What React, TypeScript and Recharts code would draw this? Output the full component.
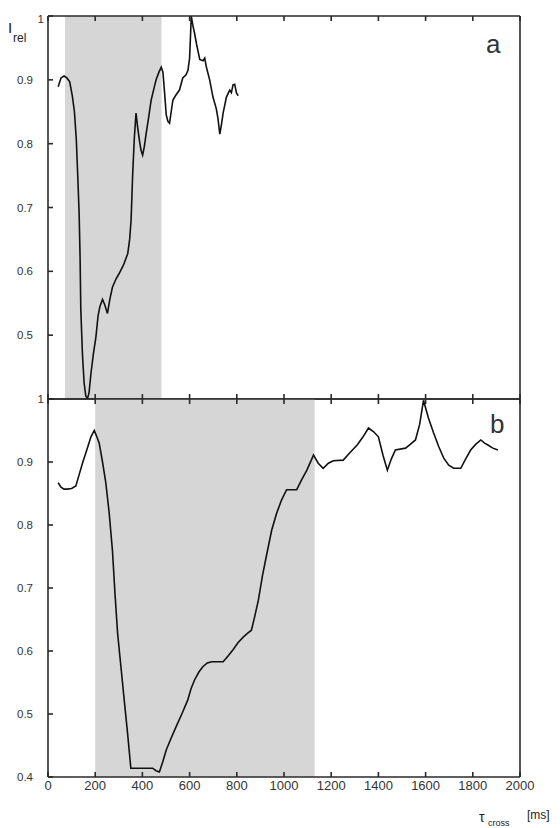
import React from 'react';
import { LineChart, Line, XAxis, YAxis, ReferenceArea } from 'recharts';

// ---- Panel a (top) ----
const topTime = [
  43, 55, 68, 80, 92, 103, 112, 120, 126, 132, 136, 139, 146, 153, 160, 167, 174, 182, 192, 203,
  212, 220, 231, 240, 252, 262, 273, 288, 302, 320, 338, 346, 352, 359, 366, 373, 380, 387, 394, 401,
  408, 416, 426, 437, 448, 458, 470, 480, 487, 494, 501, 508, 515, 522, 529, 540, 557, 571, 585, 593,
  600, 604, 607, 614, 621, 630, 643, 657, 664, 671, 685, 699, 713, 720, 728, 735, 742, 756, 770, 777,
  784, 791, 799, 806,
];
const topIrel = [
  0.889, 0.903, 0.906, 0.903, 0.897, 0.875, 0.85, 0.806, 0.75, 0.69, 0.62, 0.54, 0.47, 0.425, 0.405, 0.4, 0.41, 0.44, 0.47, 0.497,
  0.53, 0.545, 0.556, 0.548, 0.534, 0.556, 0.575, 0.588, 0.597, 0.61, 0.628, 0.65, 0.68, 0.754, 0.81, 0.848, 0.825, 0.806, 0.79, 0.782,
  0.795, 0.816, 0.84, 0.868, 0.885, 0.9, 0.912, 0.92, 0.912, 0.88, 0.845, 0.835, 0.832, 0.85, 0.868, 0.875, 0.884, 0.903, 0.908, 0.915,
  0.934, 0.97, 1.0, 0.985, 0.973, 0.955, 0.932, 0.93, 0.934, 0.92, 0.9, 0.873, 0.855, 0.84, 0.815, 0.83, 0.848, 0.873, 0.884, 0.88,
  0.892, 0.893, 0.879, 0.875,
];
const topShade = [72, 481];

// ---- Panel b (bottom) ----
const bottomTime = [
  43, 55, 68, 81, 100, 118, 132, 146, 165, 182, 196, 207, 217, 231, 245, 259, 273, 284, 295, 309,
  323, 337, 351, 380, 410, 443, 458, 472, 487, 501, 522, 543, 567, 592, 606, 621, 640, 656, 675, 694,
  720, 742, 763, 784, 805, 827, 845, 862, 876, 891, 909, 926, 948, 969, 990, 1011, 1030, 1054, 1075, 1097,
  1125, 1145, 1166, 1188, 1209, 1251, 1280, 1310, 1335, 1358, 1380, 1400, 1420, 1438, 1455, 1472, 1515, 1535, 1557, 1575,
  1591, 1612, 1634, 1655, 1677, 1698, 1719, 1749, 1770, 1791, 1812, 1834, 1850, 1864, 1885, 1906,
];
const bottomIrel = [
  0.867, 0.86, 0.857, 0.857, 0.858, 0.862, 0.88, 0.898, 0.92, 0.94, 0.95, 0.94, 0.93, 0.9, 0.867, 0.82, 0.76, 0.69, 0.628, 0.575,
  0.522, 0.47, 0.414, 0.414, 0.414, 0.414, 0.41, 0.408, 0.425, 0.443, 0.462, 0.48, 0.5, 0.522, 0.54, 0.554, 0.567, 0.575, 0.581, 0.583,
  0.583, 0.583, 0.592, 0.602, 0.613, 0.622, 0.628, 0.633, 0.655, 0.68, 0.72, 0.752, 0.792, 0.819, 0.84, 0.856, 0.856, 0.856, 0.872, 0.887,
  0.911, 0.898, 0.89, 0.898, 0.902, 0.903, 0.915, 0.927, 0.94, 0.954, 0.948, 0.94, 0.91, 0.887, 0.905, 0.919, 0.922, 0.928, 0.935, 0.96,
  0.998, 0.97, 0.946, 0.925, 0.906, 0.895, 0.89, 0.89, 0.905, 0.919, 0.928, 0.935, 0.93, 0.927, 0.922, 0.919,
];
const bottomShade = [200, 1130];

const xTicks = [0, 200, 400, 600, 800, 1000, 1200, 1400, 1600, 1800, 2000];
const yTicks = [0.4, 0.5, 0.6, 0.7, 0.8, 0.9, 1];

const topData = topTime.map((t, i) => ({ t, v: topIrel[i] }));
const bottomData = bottomTime.map((t, i) => ({ t, v: bottomIrel[i] }));

const FONT = '"Liberation Sans", Arial, Helvetica, sans-serif';
const AXIS = '#2a2a2a';
const SHADE = '#d6d6d6';

const makeYTick = (hideMin: boolean, topOffset: number) => (props: any) => {
  const { y, payload } = props;
  const v = payload.value as number;
  if (hideMin && v === 0.4) return <g />;
  const label = v === 1 ? '1' : v.toFixed(1);
  const right = v === 1 ? 44 : 33;
  return (
    <text x={right} y={y + (v === 1 ? topOffset : 0)} dy="0.35em" textAnchor="end" fontSize={11.5} fill="#333" fontFamily={FONT}>
      {label}
    </text>
  );
};

const makeXTick = (show: boolean) => (props: any) => {
  const { x, payload } = props;
  if (!show) return <g />;
  return (
    <text x={x} y={380} dy="0.95em" textAnchor="middle" fontSize={13} fill="#333" fontFamily={FONT}>
      {String(payload.value)}
    </text>
  );
};

const noLabel = () => <g />;

// Every frame axis is mirrored so its tick marks point into the plot, MATLAB style.
function Panel({ data, shade, height, margin, showXLabels, hideMin, topOffset }: any) {
  return (
    <LineChart width={560} height={height} data={data} margin={margin}>
      <XAxis
        dataKey="t"
        type="number"
        domain={[0, 2000]}
        ticks={xTicks}
        interval={0}
        height={1}
        mirror
        tickSize={5}
        tick={makeXTick(showXLabels)}
        stroke={AXIS}
        strokeWidth={1.6}
        allowDataOverflow
      />
      <XAxis
        xAxisId="top"
        orientation="top"
        dataKey="t"
        type="number"
        domain={[0, 2000]}
        ticks={xTicks}
        interval={0}
        height={1}
        mirror
        tickSize={5}
        tick={noLabel}
        stroke={AXIS}
        strokeWidth={1.6}
      />
      <YAxis
        type="number"
        domain={[0.4, 1]}
        ticks={yTicks}
        interval={0}
        width={1}
        mirror
        tickSize={5}
        tick={makeYTick(hideMin, topOffset)}
        stroke={AXIS}
        strokeWidth={1.6}
        allowDataOverflow
      />
      <YAxis
        yAxisId="right"
        orientation="right"
        type="number"
        domain={[0.4, 1]}
        ticks={yTicks}
        interval={0}
        width={1}
        mirror
        tickSize={5}
        tick={noLabel}
        stroke={AXIS}
        strokeWidth={1.6}
      />
      <ReferenceArea x1={shade[0]} x2={shade[1]} y1={0.4} y2={1} fill={SHADE} fillOpacity={1} stroke="none" />
      <Line
        type="linear"
        dataKey="v"
        stroke="#111"
        strokeWidth={1.6}
        dot={false}
        activeDot={false}
        isAnimationActive={false}
      />
    </LineChart>
  );
}

export default function App() {
  return (
    <div style={{ position: 'absolute', left: 0, top: 0, width: 560, height: 828, background: '#fff', fontFamily: FONT }}>
      <style>{`.recharts-surface{overflow:visible}`}</style>
      <div style={{ position: 'absolute', left: 0, top: 0 }}>
        <Panel
          data={topData}
          shade={topShade}
          height={400}
          margin={{ top: 16, right: 40, bottom: 1, left: 48 }}
          showXLabels={false}
          hideMin={true}
          topOffset={3}
        />
      </div>
      <div style={{ position: 'absolute', left: 0, top: 398 }}>
        <Panel
          data={bottomData}
          shade={bottomShade}
          height={430}
          margin={{ top: 1, right: 40, bottom: 51, left: 48 }}
          showXLabels={true}
          hideMin={false}
          topOffset={0}
        />
      </div>
      <svg width={560} height={828} style={{ position: 'absolute', left: 0, top: 0, pointerEvents: 'none' }}>
        <text x={8} y={33} fontSize={15} fill="#222" fontFamily={FONT}>I</text>
        <text x={13} y={42} fontSize={12} fill="#222" fontFamily={FONT}>rel</text>
        <text x={486} y={53} fontSize={26} fill="#333" fontFamily={FONT}>a</text>
        <text x={490} y={433} fontSize={26} fill="#333" fontFamily={FONT}>b</text>
        <text x={479} y={822} fontSize={14} fill="#222" fontFamily={FONT}>τ</text>
        <text x={488} y={826} fontSize={9} fill="#222" fontFamily={FONT}>cross</text>
        <text x={527} y={819} fontSize={12} fill="#222" fontFamily={FONT}>[ms]</text>
      </svg>
    </div>
  );
}
